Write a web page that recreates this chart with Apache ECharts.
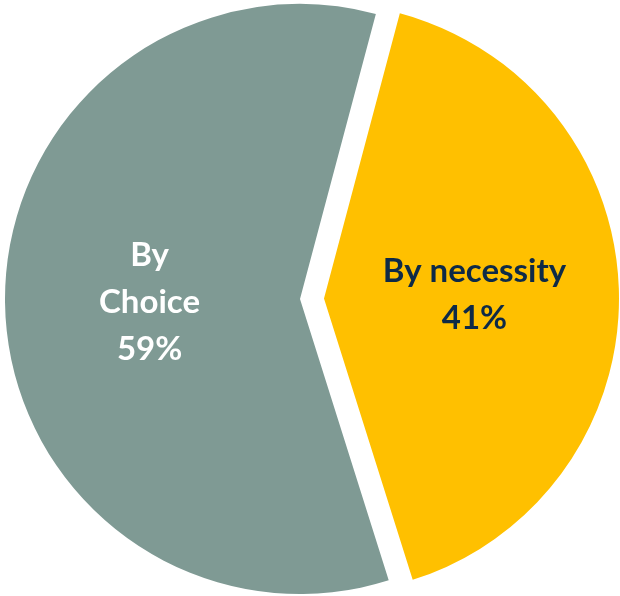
<!DOCTYPE html>
<html>
<head>
<meta charset="utf-8">
<style>
  html, body { margin: 0; padding: 0; background: #fff; }
  #chart { width: 620px; height: 596px; }
</style>
<script src="https://cdn.jsdelivr.net/npm/echarts@6/dist/echarts.min.js"></script>
</head>
<body>
<div id="chart"></div>
<script>
const categories = ['By necessity', 'By Choice'];
const shares = [41, 59];
const colors = ['#FFC000', '#7F9A94'];
const labelColors = ['#0E2A47', '#FFFFFF'];

const chartData = categories.map(function (name, i) {
  return {
    name: name,
    value: shares[i],
    selected: i === 0,
    itemStyle: { color: colors[i] },
    label: {
      color: labelColors[i],
      // Choice label is broken on every word
      formatter: i === 0 ? '{b}\n{d}%' : function (p) {
        return p.name.replace(' ', '\n') + '\n' + p.percent + '%';
      }
    }
  };
});

const option = {
  animation: false,
  series: [
    {
      type: 'pie',
      center: [300, 299],
      radius: 295,
      startAngle: 75.1,
      selectedMode: 'single',
      selectedOffset: 24,
      silent: true,
      label: {
        show: true,
        position: 'inside',
        fontFamily: 'Lato',
        fontWeight: 'bold',
        fontSize: 33,
        lineHeight: 47
      },
      labelLine: { show: false },
      emphasis: { disabled: true },
      select: { itemStyle: { borderWidth: 0 } },
      data: chartData
    }
  ]
};

const myChart = echarts.init(document.getElementById('chart'));
myChart.setOption(option);
window.addEventListener('resize', function () {
  myChart.resize();
});
</script>
</body>
</html>
